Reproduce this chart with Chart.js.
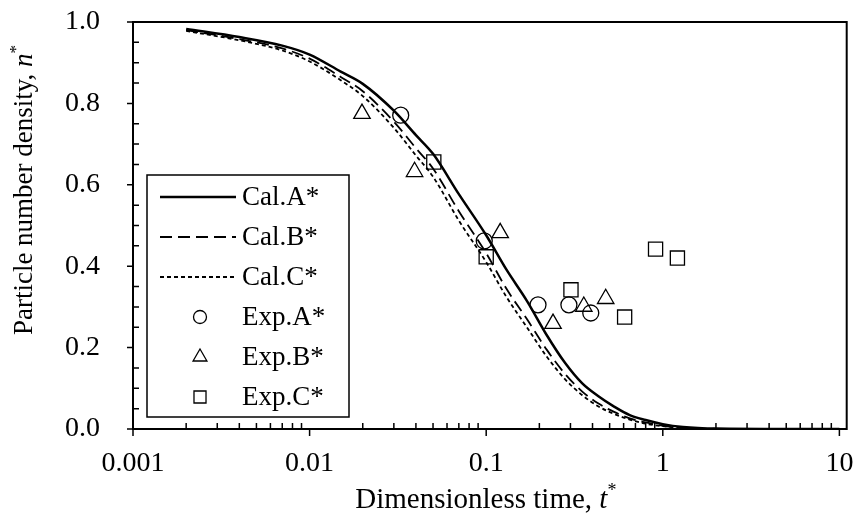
<!DOCTYPE html>
<html>
<head>
<meta charset="utf-8">
<script src="https://cdn.jsdelivr.net/npm/chart.js@4.4.0/dist/chart.umd.min.js"></script>
<style>
    html, body { margin: 0; padding: 0; background: #fff; }
</style>
</head>
<body>
<canvas id="densityChart" width="858" height="517"></canvas>
<script>
// dimensionless time for the calculated curves
const times = [0.002, 0.004, 0.007, 0.01, 0.015, 0.02, 0.03, 0.04, 0.05, 0.07, 0.1, 0.13, 0.17, 0.22, 0.28, 0.35, 0.43, 0.53, 0.65, 0.8, 1.0, 1.3, 2, 5, 10];
const calA = [0.983, 0.963, 0.942, 0.920, 0.878, 0.848, 0.782, 0.722, 0.676, 0.577, 0.476, 0.392, 0.315, 0.231, 0.162, 0.112, 0.081, 0.055, 0.034, 0.022, 0.012, 0.005, 0.001, 0, 0];
const calB = [0.980, 0.958, 0.935, 0.910, 0.865, 0.830, 0.755, 0.690, 0.640, 0.535, 0.432, 0.345, 0.270, 0.195, 0.135, 0.092, 0.063, 0.042, 0.026, 0.016, 0.008, 0.003, 0.0005, 0, 0];
const calC = [0.978, 0.955, 0.930, 0.903, 0.857, 0.818, 0.740, 0.672, 0.620, 0.512, 0.410, 0.325, 0.250, 0.178, 0.122, 0.083, 0.056, 0.037, 0.023, 0.013, 0.007, 0.002, 0, 0, 0];

// experimental points
const expATimes = [0.0328, 0.0975, 0.1965, 0.294, 0.391];
const expAValues = [0.771, 0.462, 0.305, 0.305, 0.285];
const expBTimes = [0.0198, 0.0393, 0.12, 0.239, 0.357, 0.475];
const expBValues = [0.775, 0.632, 0.482, 0.259, 0.301, 0.320];
const expCTimes = [0.0505, 0.1, 0.302, 0.608, 0.91, 1.21];
const expCValues = [0.656, 0.423, 0.342, 0.275, 0.442, 0.420];

const xTickValues = [0.001, 0.01, 0.1, 1, 10];
const xTickLabels = ['0.001', '0.01', '0.1', '1', '10'];
const yTickLabels = ['0.0', '0.2', '0.4', '0.6', '0.8', '1.0'];

const FONT = "'Liberation Serif', 'Times New Roman', serif";

const toPoints = (xs, ys) => xs.map((x, i) => ({ x: x, y: ys[i] }));

// ticks (majors outward, minors inward) and the plot frame
const ticksAndFrame = {
    id: 'ticksAndFrame',
    afterDatasetsDraw(chart) {
        const { ctx, chartArea: a, scales: { x, y } } = chart;
        ctx.save();
        ctx.strokeStyle = '#000';
        ctx.lineWidth = 1.5;
        ctx.beginPath();
        xTickValues.forEach(v => {
            const px = x.getPixelForValue(v);
            ctx.moveTo(px, a.bottom);
            ctx.lineTo(px, a.bottom + 7);
            if (v < 10) {
                for (let k = 2; k <= 9; k++) {
                    const mx = x.getPixelForValue(v * k);
                    ctx.moveTo(mx, a.bottom);
                    ctx.lineTo(mx, a.bottom - 6);
                }
            }
        });
        for (let i = 0; i <= 20; i++) {
            const v = i * 0.05;
            const py = y.getPixelForValue(v);
            if (i % 4 === 0) {
                ctx.moveTo(a.left, py);
                ctx.lineTo(a.left - 6, py);
            } else {
                ctx.moveTo(a.left, py);
                ctx.lineTo(a.left + 6, py);
            }
        }
        ctx.stroke();
        ctx.lineWidth = 2;
        ctx.strokeRect(a.left, a.top, a.right - a.left, a.bottom - a.top);
        ctx.restore();
    }
};

// axis titles with italic symbol and superscript star
const drawRich = (ctx, parts, x, y, rotate) => {
    ctx.save();
    ctx.translate(x, y);
    if (rotate) ctx.rotate(-Math.PI / 2);
    let total = 0;
    parts.forEach(p => { ctx.font = p.font; total += ctx.measureText(p.text).width; });
    let cx = -total / 2;
    ctx.fillStyle = '#000';
    ctx.textBaseline = 'alphabetic';
    ctx.textAlign = 'left';
    parts.forEach(p => {
        ctx.font = p.font;
        ctx.fillText(p.text, cx, p.dy || 0);
        cx += ctx.measureText(p.text).width;
    });
    ctx.restore();
};

const axisTitles = {
    id: 'axisTitles',
    afterDraw(chart) {
        const { ctx, chartArea: a } = chart;
        drawRich(ctx, [
            { text: 'Dimensionless time, ', font: '29px ' + FONT },
            { text: 't', font: 'italic 29px ' + FONT },
            { text: '*', font: '18px ' + FONT, dy: -12 }
        ], (a.left + a.right) / 2 - 4, 508, false);
        drawRich(ctx, [
            { text: 'Particle number density, ', font: '27px ' + FONT },
            { text: 'n', font: 'italic 27px ' + FONT },
            { text: '*', font: '17px ' + FONT, dy: -11 }
        ], 32, 190, true);
    }
};

// boxed legend inside the plot area
const boxLegend = {
    id: 'boxLegend',
    afterDraw(chart) {
        const { ctx, chartArea: a } = chart;
        const left = a.left + 14, top = a.top + 153, w = 202, h = 242;
        ctx.save();
        ctx.fillStyle = '#fff';
        ctx.fillRect(left, top, w, h);
        ctx.strokeStyle = '#000';
        ctx.lineWidth = 1.5;
        ctx.strokeRect(left, top, w, h);
        chart.data.datasets.forEach((ds, i) => {
            const cy = top + 22 + i * 40;
            ctx.strokeStyle = '#000';
            if (ds.showLine !== false) {
                ctx.lineWidth = ds.borderWidth;
                ctx.setLineDash(ds.borderDash || []);
                ctx.beginPath();
                ctx.moveTo(left + 13, cy);
                ctx.lineTo(left + 89, cy);
                ctx.stroke();
                ctx.setLineDash([]);
            } else {
                ctx.lineWidth = 1.3;
                ctx.fillStyle = 'rgba(0,0,0,0)';
                Chart.helpers.drawPoint(ctx, {
                    pointStyle: ds.pointStyle,
                    radius: ds.pointRadius - 1.5,
                    rotation: 0,
                    borderWidth: 1.3
                }, left + 53, cy);
            }
            ctx.fillStyle = '#000';
            ctx.font = '27px ' + FONT;
            ctx.textAlign = 'left';
            ctx.textBaseline = 'middle';
            ctx.fillText(ds.label, left + 95, cy + 1);
        });
        ctx.restore();
    }
};

document.addEventListener('DOMContentLoaded', () => {
    const ctx = document.getElementById('densityChart').getContext('2d');

    const lineSet = (label, values, dash, width) => ({
        label: label,
        data: toPoints(times, values),
        borderColor: '#000',
        borderWidth: width,
        borderDash: dash,
        pointRadius: 0,
        cubicInterpolationMode: 'monotone',
        fill: false
    });
    const pointSet = (label, xs, ys, style, radius) => ({
        label: label,
        data: toPoints(xs, ys),
        showLine: false,
        pointStyle: style,
        pointRadius: radius,
        borderColor: '#000',
        pointBorderColor: '#000',
        pointBackgroundColor: 'rgba(0,0,0,0)',
        pointBorderWidth: 1.3
    });

    new Chart(ctx, {
        type: 'line',
        data: {
            datasets: [
                lineSet('Cal.A*', calA, [], 2.5),
                lineSet('Cal.B*', calB, [12, 6], 1.8),
                lineSet('Cal.C*', calC, [4, 3], 1.8),
                pointSet('Exp.A*', expATimes, expAValues, 'circle', 8),
                pointSet('Exp.B*', expBTimes, expBValues, 'triangle', 9.5),
                pointSet('Exp.C*', expCTimes, expCValues, 'rect', 10)
            ]
        },
        options: {
            responsive: false,
            animation: false,
            layout: { padding: { top: 22, right: 8, left: 0, bottom: 0 } },
            scales: {
                x: {
                    type: 'logarithmic',
                    min: 0.001,
                    max: 11.0,
                    grid: { display: false, drawTicks: false },
                    border: { display: false },
                    afterBuildTicks: scale => {
                        scale.ticks = xTickValues.map(v => ({ value: v }));
                    },
                    afterFit: scale => {
                        scale.height = 88;
                        scale.paddingLeft = 0;
                        scale.paddingRight = 0;
                    },
                    ticks: {
                        color: '#000',
                        font: { family: FONT, size: 28 },
                        padding: 18,
                        maxRotation: 0,
                        autoSkip: false,
                        callback: value => {
                            const i = xTickValues.indexOf(value);
                            return i >= 0 ? xTickLabels[i] : '';
                        }
                    }
                },
                y: {
                    min: 0,
                    max: 1,
                    grid: { display: false, drawTicks: false },
                    border: { display: false },
                    afterFit: scale => {
                        scale.width = 133;
                        scale.paddingTop = 0;
                        scale.paddingBottom = 0;
                    },
                    ticks: {
                        stepSize: 0.2,
                        color: '#000',
                        font: { family: FONT, size: 28 },
                        padding: 33,
                        callback: (value, index) => yTickLabels[index]
                    }
                }
            },
            plugins: {
                legend: { display: false },
                tooltip: { enabled: false }
            }
        },
        plugins: [ticksAndFrame, axisTitles, boxLegend]
    });
});
</script>
</body>
</html>
